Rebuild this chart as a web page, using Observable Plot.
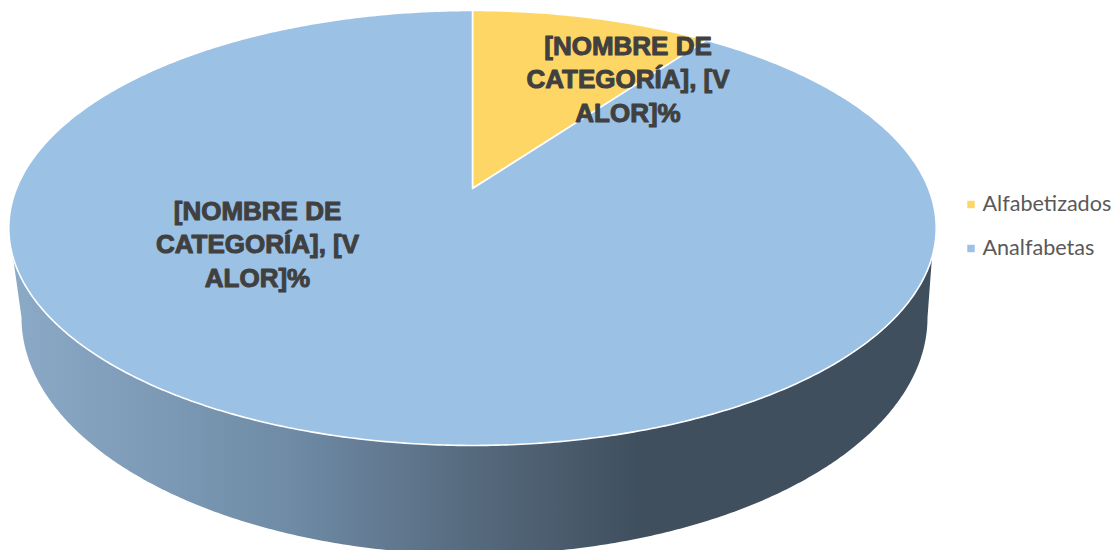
<!DOCTYPE html>
<html>
<head>
<meta charset="utf-8">
<script src="https://cdn.jsdelivr.net/npm/d3@7"></script>
<script src="https://cdn.jsdelivr.net/npm/@observablehq/plot@0.6"></script>
<style>
html,body{margin:0;padding:0;background:#fff;overflow:hidden}
svg{display:block}
</style>
</head>
<body>
<div id="chart"></div>
<script>
const categories = ["Alfabetizados", "Analfabetas"];
const shares = [10, 90];
const sliceColors = ["#FDD666", "#9BC1E5"];
const labelLines = ["[NOMBRE DE", "CATEGORÍA], [V", "ALOR]%"];

const W = 1120, H = 550;
// perspective of the tilted disc
const tilt = 0.1816, apexX = 472, apexY = 188, unitX = 456, unitY = 210.3;
const rad = d => d * Math.PI / 180;
function rim(deg) {
  const s = Math.sin(rad(deg)), c = Math.cos(rad(deg)), w = 1 + tilt * c;
  return {x: s / w, y: c / w};
}
const fromPx = (px, py) => ({x: (px - apexX) / unitX, y: (apexY - py) / unitY});

// slices
const slicePoints = [];
let start = 0;
const total = d3.sum(shares);
categories.forEach((category, i) => {
  const end = start + shares[i] / total * 360;
  const pts = [{x: 0, y: 0}];
  for (const a of d3.range(start, end, 0.5)) pts.push(rim(a));
  pts.push(rim(end), {x: 0, y: 0});
  pts.forEach(p => slicePoints.push({...p, category}));
  start = end;
});

// side wall: lower rim (left to right along the bottom), then the near part of the top rim
const lowerC = fromPx(474, 317), lowerRx = 453 / unitX, lowerRy = 237 / unitY;
const wallPoints = [];
for (const a of d3.range(270, 89.5, -0.5)) {
  wallPoints.push({x: lowerC.x + lowerRx * Math.sin(rad(a)), y: lowerC.y + lowerRy * Math.cos(rad(a))});
}
const wallTopLimit = fromPx(0, 255).y;
for (const a of d3.range(0, 360, 0.5)) {
  const p = rim(a);
  if (p.y <= wallTopLimit) wallPoints.push(p);
}
wallPoints.push(wallPoints[0]);

const gradient = () => {
  const defs = d3.create("svg:defs");
  const g = defs.append("linearGradient").attr("id", "wallShade").attr("x1", 0).attr("x2", 1).attr("y1", 0).attr("y2", 0);
  [[0, "#8baac7"], [0.3, "#6f8ba6"], [0.5, "#566a7e"], [0.68, "#3f4f5e"], [1, "#3f4f5e"]]
    .forEach(([o, c]) => g.append("stop").attr("offset", o).attr("stop-color", c));
  return defs.node();
};

const labelAnchors = [fromPx(627.5, 77), fromPx(257, 242)];
const labelRows = categories.map((category, i) => ({category, ...labelAnchors[i], text: labelLines.join("\n")}));
const legendRows = categories.map((category, i) => ({category, ...fromPx(970.5, 204 + i * 44)}));
const legendText = categories.map((category, i) => ({category, ...fromPx(982, 204 + i * 44)}));

const chart = Plot.plot({
  width: W, height: H, margin: 0,
  style: {background: "transparent", overflow: "hidden"},
  x: {domain: [-apexX / unitX, (W - apexX) / unitX], range: [0, W], axis: null},
  y: {domain: [apexY / unitY, (apexY - H) / unitY], range: [0, H], axis: null},
  color: {domain: categories, range: sliceColors},
  marks: [
    gradient,
    Plot.line(wallPoints, {x: "x", y: "y", fill: "url(#wallShade)", stroke: "none", curve: "linear"}),
    Plot.line(slicePoints, {x: "x", y: "y", z: "category", fill: "category", stroke: "#fff", strokeWidth: 1.6, curve: "linear", strokeLinejoin: "round"}),
    Plot.text(labelRows, {x: "x", y: "y", text: "text", fontSize: 26, fontWeight: 700, fontFamily: "Liberation Sans", fill: "#404040", stroke: "#404040", strokeWidth: 1, lineHeight: 1.29, textAnchor: "middle"}),
    Plot.dot(legendRows, {x: "x", y: "y", symbol: "square", r: 4.2, fill: "category", stroke: "none"}),
    Plot.text(legendText, {x: "x", y: "y", text: "category", fontSize: 21.6, fontFamily: "Lato", fill: "#595959", textAnchor: "start"})
  ]
});
document.getElementById("chart").append(chart);
</script>
</body>
</html>
